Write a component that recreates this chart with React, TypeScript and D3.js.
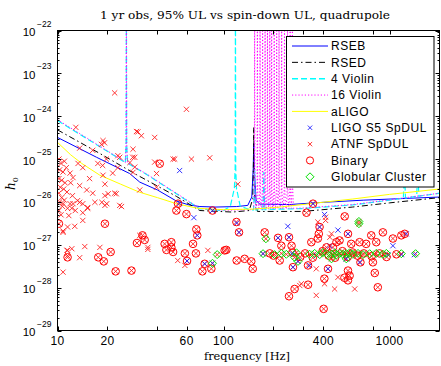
import React, { useEffect, useRef } from 'react'
import * as d3 from 'd3'

type Pt = [number, number]

const W = 441
const H = 366

const xTicks = [10, 20, 40, 60, 100, 200, 300, 400, 800, 1000]
const xTickLabels = [10, 20, 60, 100, 400, 1000]
const yExps = [-29, -28, -27, -26, -25, -24, -23, -22]

// sensitivity curves: frequency [Hz] / h0
const rsebF = [10, 17.2, 27.2, 31.3, 40, 52, 62, 72, 90, 120, 140, 148, 151, 152, 153.5, 157, 165, 250, 400, 700, 1200, 2000]
const rsebH = [3.2e-25, 1.1e-25, 4.6e-26, 2.9e-26, 1.9e-26, 1.05e-26, 8.5e-27, 7.8e-27, 7.6e-27, 7.8e-27, 8.3e-27, 1.3e-26, 6e-26, 2.3e-25, 5e-26, 1.1e-26, 8.9e-27, 8.7e-27, 9.8e-27, 1.1e-26, 1.2e-26, 1.3e-26]

const rsedF = [10, 18, 30, 52, 72, 113, 143, 150, 151.5, 152, 152.5, 154, 160, 300, 600, 1000, 2000]
const rsedH = [4.8e-25, 1.35e-25, 4.3e-26, 1.35e-26, 6.3e-27, 5.8e-27, 6.3e-27, 1.2e-26, 8e-26, 5.5e-25, 8e-26, 1.2e-26, 6e-27, 6e-27, 7.6e-27, 9.5e-27, 1.26e-26]

const violin4F = [10, 18, 25, 35, 52, 72, 100, 110, 116, 120, 126, 145, 300, 600, 1000, 2000]
const violin4H = [7.9e-25, 1.95e-25, 8.8e-26, 4.2e-26, 1.55e-26, 6.9e-27, 6.3e-27, 8e-27, 2e-26, 2e-26, 8e-27, 6.5e-27, 7e-27, 8.5e-27, 1.1e-26, 1.6e-26]
const violin4Peaks: Pt[] = [[26, 1e-21], [118, 1e-21], [154, 6e-26], [175, 5e-26], [1230, 6e-26], [1480, 5e-26]]

const violin16F = [10, 18, 25, 35, 52, 72, 100, 145, 300, 600, 1000, 2000]
const violin16H = [8.3e-25, 2.0e-25, 9e-26, 4.3e-26, 1.6e-26, 7e-27, 6.4e-27, 6.6e-27, 7.2e-27, 8.7e-27, 1.12e-26, 1.6e-26]
const violin16Peaks = [26, 154, 160, 166, 172, 178, 184, 190, 195, 202, 209, 216, 224, 233, 243, 252, 260]

const aligoF = [10, 12, 14, 18, 24, 31, 40, 52, 70, 100, 150, 220, 350, 600, 1000, 2000]
const aligoH = [2.45e-25, 1.26e-25, 7.9e-26, 4.2e-26, 2.6e-26, 1.7e-26, 1.26e-26, 9.1e-27, 7.1e-27, 6.6e-27, 6.8e-27, 7.6e-27, 9.3e-27, 1.17e-26, 1.5e-26, 2.0e-26]

// pulsars: [frequency, h0]
const atnf: Pt[] = [
  [22.1, 3.5e-24], [12.9, 5.5e-25], [29.9, 4.4e-25], [38.5, 3.2e-25], [18.8, 2.7e-25], [19.2, 2.4e-25], [18.4, 2.2e-25],
  [49.7, 1.0e-25], [28.4, 1.1e-25], [23.1, 1.2e-25], [13.6, 1.8e-25], [16.3, 1.6e-25],
  [14.2, 6.3e-26], [13.3, 7.9e-26], [17.5, 7.9e-26], [18.7, 7.1e-26], [23.1, 6.3e-26], [11.9, 4.7e-26], [12.4, 3.7e-26],
  [15.6, 3.5e-26], [21.5, 4.7e-26], [27.3, 8.3e-26], [13.6, 2.4e-26], [15.0, 1.9e-26], [16.3, 1.6e-26], [13.2, 1.07e-26],
  [14.2, 9.1e-27], [15.2, 7.4e-27], [22.1, 1.6e-26], [18.5, 9.8e-27], [19.8, 9.1e-27], [11.9, 9.1e-27],
  [59.8, 1.45e-24], [30.5, 4.3e-25], [32.0, 3.5e-25], [28.5, 1.7e-25], [23.7, 1.1e-25], [29.2, 1.1e-25], [19.7, 1.0e-25],
  [50.8, 1.0e-25], [64.1, 1.0e-25], [82.6, 1.07e-25], [38.5, 8.5e-26], [29.2, 6.5e-26], [28.5, 4.9e-26], [39.5, 4.6e-26],
  [18.8, 4.2e-26], [19.3, 2.6e-26], [31.3, 1.9e-26], [39.5, 2.2e-26], [19.3, 1.4e-26], [20.2, 1.55e-26], [22.6, 1.55e-26],
  [24.3, 7.8e-27], [122, 2.6e-26],
  [10.2, 1.0e-25], [10.5, 7.9e-26], [11.0, 8.9e-26], [10.3, 5.6e-26], [10.8, 5.0e-26], [11.3, 6.3e-26], [10.2, 3.5e-26],
  [10.6, 3.2e-26], [11.1, 2.8e-26], [10.4, 2.2e-26], [10.9, 2.0e-26], [10.2, 1.6e-26], [11.4, 1.7e-26], [10.6, 1.26e-26],
  [10.3, 1.0e-26], [11.0, 1.1e-26], [10.7, 7.9e-27], [10.2, 6.3e-27], [11.5, 7.1e-27], [10.5, 5.0e-27], [12.0, 2.8e-26],
  [12.3, 1.4e-26], [12.8, 6.3e-27], [11.7, 4.8e-27], [11.5, 2.6e-27], [10.8, 1.95e-27], [11.5, 7.4e-28], [11.5, 5.6e-28],
  [10.8, 2.3e-28],
  [10.8, 9.1e-27], [12.4, 9.1e-27], [13.6, 9.8e-27], [16.8, 9.8e-27], [19.3, 8.3e-27], [23.7, 8.3e-27], [12.2, 7.1e-27],
  [14.2, 5.6e-27], [15.2, 7.1e-27], [10.8, 2.1e-27], [12.7, 2.7e-27], [14.2, 3.7e-27], [11.4, 7.4e-28], [12.2, 8.1e-28],
  [14.6, 9.1e-28], [13.6, 5.0e-28], [18, 8.7e-28], [35, 8.7e-28], [35, 7.8e-28], [31.3, 1.66e-27], [53, 4.3e-28],
  [58.5, 3.3e-28], [80.5, 7.4e-28],
  [412, 4.4e-27], [412, 3.7e-27], [370, 3.4e-27], [288, 1.12e-28], [294, 1.23e-28], [362, 6.6e-29], [467, 9.3e-29],
  [617, 9.3e-29], [489, 1.74e-28], [406, 1.23e-28], [362, 2.75e-28], [447, 1.8e-27], [437, 1.5e-27],
]

const binary: Pt[] = [
  [10.2, 3.1e-27], [19.3, 3.1e-27], [11.5, 5.1e-28], [17.6, 5.1e-28], [19.0, 4.1e-28], [20.9, 6.8e-28], [22.4, 2.4e-28],
  [27.9, 2.5e-28], [30.1, 1.1e-27], [32.5, 1.66e-27], [33.5, 1.3e-27], [44.2, 1.05e-27], [45.3, 7.6e-28], [48.5, 1.15e-27],
  [48.5, 8.7e-28], [49.7, 6.8e-28], [52, 6.3e-27], [59.8, 5.2e-27], [65.5, 1.05e-27], [58.5, 6.3e-28], [68.6, 2.3e-27],
  [68.2, 6.3e-28], [69.5, 1.66e-27], [60.3, 4.2e-28], [74.6, 2.4e-28], [77.0, 3.6e-28], [84.5, 2.75e-28], [85.8, 6.3e-27],
  [104, 7.6e-28], [41.3, 7.8e-26], [53.2, 9.1e-27], [119.6, 3.4e-27],
  [316, 5.6e-27], [537, 4.6e-27], [124, 1.95e-27], [177, 1.95e-27], [213, 1.45e-27], [248, 1.5e-27], [223, 9.5e-28],
  [257, 9.5e-28], [379, 2.6e-27], [375, 1.8e-27], [370, 1.4e-27], [562, 1.8e-27], [776, 1.66e-27], [912, 1.95e-27],
  [1048, 1.4e-27], [1178, 1.66e-27], [1234, 1.8e-27], [588, 1.05e-27], [660, 1.15e-27], [723, 1.05e-27], [832, 1.15e-27],
  [479, 1.15e-27], [500, 1.26e-27], [456, 8.7e-28], [338, 1.15e-27], [417, 8.7e-28], [218, 4.3e-28], [147, 4.1e-28],
  [150, 2.75e-28], [120, 4.3e-28], [134, 4.7e-28], [101.6, 7.4e-28], [262, 3.0e-28], [323, 3.3e-28], [426, 2.75e-28],
  [562, 2.5e-28], [535, 1.7e-28], [562, 1.48e-28], [575, 1.9e-28], [794, 3.9e-28], [668, 3.9e-28], [815, 2.2e-28],
  [850, 1.02e-28], [405, 1.62e-28], [323, 1.17e-28], [268, 9.3e-29], [248, 6.3e-29], [401, 3.2e-29], [346, 9.1e-27],
  [190, 6.3e-28], [200, 5.6e-28], [260, 6.6e-28], [290, 5.2e-28], [310, 6.3e-28], [345, 5.0e-28], [395, 7.1e-28],
  [430, 5.6e-28], [470, 5.0e-28], [520, 7.1e-28], [560, 5.2e-28], [600, 6.6e-28], [640, 5.6e-28], [700, 6.3e-28],
  [780, 5.4e-28], [870, 6.3e-28], [960, 5.2e-28], [1100, 6.0e-28],
]

const globular: Pt[] = [
  [173, 6.2e-28], [203, 5.9e-28], [223, 6.3e-28], [239, 6.0e-28], [275, 6.5e-28], [281, 4.1e-28], [330, 6.0e-28],
  [354, 6.3e-28], [380, 5.9e-28], [397, 6.6e-28], [417, 6.2e-28], [447, 6.0e-28], [468, 6.5e-28], [479, 5.8e-28],
  [501, 6.3e-28], [524, 6.0e-28], [549, 6.2e-28], [575, 6.5e-28], [602, 6.0e-28], [646, 6.3e-28], [692, 5.9e-28],
  [759, 6.2e-28], [832, 6.3e-28], [912, 6.0e-28], [957, 6.3e-28], [1178, 6.2e-28], [1435, 6.2e-28], [180, 1.38e-27],
  [654, 3.5e-27], [654, 3.1e-27], [85.8, 3.7e-28], [91.6, 5.9e-28], [268, 5.1e-28], [447, 4.7e-28], [549, 4.7e-28],
]

const ligoS5: Pt[] = [
  [66.3, 4.3e-27], [69.5, 1.66e-27], [60.3, 4.2e-28], [77, 3.6e-28], [85.8, 3.7e-28], [85.8, 6.3e-27], [54.4, 9.3e-27],
  [120, 3.2e-27], [124, 1.95e-27], [213, 1.45e-27], [248, 1.5e-27], [244, 2.7e-27], [406, 5.1e-27], [379, 2.6e-27],
  [437, 9.5e-28], [562, 1.8e-27], [489, 2.2e-27], [1048, 9.5e-28], [1262, 1.8e-27], [173, 6.2e-28], [262, 3.0e-28],
  [426, 2.75e-28], [549, 4.7e-28], [660, 3.9e-28], [978, 5.9e-28], [281, 4.1e-28], [259, 6.2e-28], [330, 3.3e-28],
  [363, 5.6e-28], [1178, 5.9e-28], [1413, 5.9e-28], [54.4, 5.4e-26], [346, 9.1e-27],
]

const legendItems = ['RSEB', 'RSED', '4 Violin', '16 Violin', 'aLIGO', 'LIGO S5 SpDUL', 'ATNF SpDUL', 'Binary', 'Globular Cluster']

export default function App() {
  const svgRef = useRef<SVGSVGElement>(null)

  useEffect(() => {
    if (!svgRef.current) return
    const svg = d3.select(svgRef.current)
    svg.selectAll('*').remove()

    const left = 57.5, right = 439.5, top = 30.5, bottom = 330.5
    const x = d3.scaleLog().domain([10, 2000]).range([left, right])
    const y = d3.scaleLog().domain([1e-29, 1e-22]).range([bottom, top])
    const sans = 'Liberation Sans, Arial, sans-serif'
    const serif = 'DejaVu Serif, serif'

    svg.append('rect').attr('width', W).attr('height', H).attr('fill', '#fff')

    svg.append('defs').append('clipPath').attr('id', 'plotclip')
      .append('rect').attr('x', left).attr('y', top).attr('width', right - left).attr('height', bottom - top)

    const zip = (f: number[], h: number[]): Pt[] => f.map((v, i) => [v, h[i]])

    // add narrow resonance spikes on top of a base curve
    const withPeaks = (base: Pt[], peaks: Pt[]): Pt[] => {
      const interp = d3.scaleLinear()
        .domain(base.map(d => Math.log10(d[0])))
        .range(base.map(d => Math.log10(d[1])))
      const pts = base.slice()
      peaks.forEach(([f, ph]) => {
        const b = Math.pow(10, interp(Math.log10(f)))
        pts.push([f * 0.985, b], [f * 0.996, b * 3], [f, ph], [f * 1.004, b * 3], [f * 1.015, b])
      })
      return pts.sort((a, b) => a[0] - b[0])
    }

    const line = d3.line<Pt>().x(d => x(d[0])).y(d => y(d[1]))

    const curves = [
      { pts: zip(rsebF, rsebH), color: '#0000ff', dash: null, w: 1 },
      { pts: zip(rsedF, rsedH), color: '#000000', dash: '6,3,1.5,3', w: 1 },
      { pts: withPeaks(zip(violin4F, violin4H), violin4Peaks), color: '#00ffff', dash: '6,3', w: 1.2 },
      { pts: withPeaks(zip(violin16F, violin16H), violin16Peaks.map(f => [f, 1e-21] as Pt)), color: '#ff00ff', dash: '1.2,2', w: 1 },
      { pts: zip(aligoF, aligoH), color: '#ffff00', dash: null, w: 1 },
    ]

    const plot = svg.append('g').attr('clip-path', 'url(#plotclip)')
    curves.forEach(c => {
      plot.append('path').attr('d', line(c.pts) || '')
        .attr('fill', 'none').attr('stroke', c.color).attr('stroke-width', c.w)
        .attr('stroke-dasharray', c.dash)
    })

    const xPath = (px: number, py: number, s: number) =>
      `M${px - s},${py - s}L${px + s},${py + s}M${px - s},${py + s}L${px + s},${py - s}`
    const diamond = (px: number, py: number, s: number) =>
      `M${px},${py - s}L${px + s},${py}L${px},${py + s}L${px - s},${py}Z`

    // ATNF crosses (binaries and globular cluster pulsars are ATNF pulsars too)
    const redX = [...atnf, ...binary, ...globular]
    plot.append('path')
      .attr('d', redX.map(d => xPath(x(d[0]), y(d[1]), 2.6)).join(''))
      .attr('fill', 'none').attr('stroke', '#ff2020').attr('stroke-width', 0.9)

    plot.append('path')
      .attr('d', ligoS5.map(d => xPath(x(d[0]), y(d[1]), 2.6)).join(''))
      .attr('fill', 'none').attr('stroke', '#2020ff').attr('stroke-width', 0.9)

    plot.selectAll('circle.bin').data(binary).enter().append('circle')
      .attr('class', 'bin')
      .attr('cx', d => x(d[0])).attr('cy', d => y(d[1])).attr('r', 3.8)
      .attr('fill', 'none').attr('stroke', '#ff0000').attr('stroke-width', 1)

    plot.append('path')
      .attr('d', globular.map(d => diamond(x(d[0]), y(d[1]), 4)).join(''))
      .attr('fill', 'none').attr('stroke', '#00e000').attr('stroke-width', 1)

    // axes box and ticks
    const axes = svg.append('g').attr('stroke', '#000').attr('stroke-width', 1)
    axes.append('rect').attr('x', left).attr('y', top).attr('width', right - left).attr('height', bottom - top)
      .attr('fill', 'none')

    xTicks.forEach(t => {
      const px = Math.round(x(t)) + 0.5
      axes.append('line').attr('x1', px).attr('x2', px).attr('y1', bottom).attr('y2', bottom - 4)
      axes.append('line').attr('x1', px).attr('x2', px).attr('y1', top).attr('y2', top + 4)
    })
    yExps.forEach(e => {
      const py = Math.round(y(Math.pow(10, e))) + 0.5
      axes.append('line').attr('x1', left).attr('x2', left + 4).attr('y1', py).attr('y2', py)
      axes.append('line').attr('x1', right).attr('x2', right - 4).attr('y1', py).attr('y2', py)
      if (e < -22) {
        for (let m = 2; m <= 9; m++) {
          const my = Math.round(y(m * Math.pow(10, e))) + 0.5
          axes.append('line').attr('x1', left).attr('x2', left + 2).attr('y1', my).attr('y2', my)
          axes.append('line').attr('x1', right).attr('x2', right - 2).attr('y1', my).attr('y2', my)
        }
      }
    })

    xTickLabels.forEach(t => {
      svg.append('text').attr('x', x(t)).attr('y', 345)
        .attr('text-anchor', 'middle').attr('font-family', sans).attr('font-size', 12)
        .attr('letter-spacing', 0.4).text(t)
    })

    yExps.forEach(e => {
      const py = y(Math.pow(10, e))
      svg.append('text').attr('x', 35.5).attr('y', py + 5.5)
        .attr('text-anchor', 'end').attr('font-family', sans).attr('font-size', 11.5).text('10')
      svg.append('text').attr('x', 37).attr('y', py - 4)
        .attr('font-family', sans).attr('font-size', 8.5).text('\u2212' + Math.abs(e))
    })

    svg.append('text').attr('x', 245).attr('y', 19).attr('text-anchor', 'middle')
      .attr('font-family', serif).attr('font-size', 11).attr('textLength', 290).attr('lengthAdjust', 'spacingAndGlyphs')
      .text('1 yr obs, 95% UL vs spin-down UL, quadrupole')

    svg.append('text').attr('x', 247).attr('y', 360).attr('text-anchor', 'middle')
      .attr('font-family', serif).attr('font-size', 11).attr('textLength', 86).attr('lengthAdjust', 'spacingAndGlyphs')
      .text('frequency [Hz]')

    const yl = svg.append('text').attr('transform', 'translate(15,190) rotate(-90)')
      .attr('font-family', serif).attr('font-size', 12)
    yl.append('tspan').attr('font-style', 'italic').text('h')
    yl.append('tspan').attr('font-size', 8).attr('dy', 3).text('0')

    // legend
    const lg = svg.append('g')
    lg.append('rect').attr('x', 286.5).attr('y', 36.5).attr('width', 147.5).attr('height', 150.5)
      .attr('fill', '#fff').attr('stroke', '#000').attr('stroke-width', 1)
    legendItems.forEach((name, i) => {
      const cy = 46 + i * 16.35
      if (i < 5) {
        const c = curves[i]
        lg.append('line').attr('x1', 292).attr('x2', 328).attr('y1', cy).attr('y2', cy)
          .attr('stroke', c.color).attr('stroke-width', i === 2 ? 1.6 : 1).attr('stroke-dasharray', c.dash)
      } else if (i === 5 || i === 6) {
        lg.append('path').attr('d', xPath(310, cy, 2.2)).attr('fill', 'none')
          .attr('stroke', i === 5 ? '#2020ff' : '#ff2020').attr('stroke-width', 0.9)
      } else if (i === 7) {
        lg.append('circle').attr('cx', 310).attr('cy', cy).attr('r', 3.6)
          .attr('fill', 'none').attr('stroke', '#ff0000')
      } else {
        lg.append('path').attr('d', diamond(310, cy, 4)).attr('fill', 'none').attr('stroke', '#00e000')
      }
      lg.append('text').attr('x', 331).attr('y', cy + 4.3)
        .attr('font-family', sans).attr('font-size', 12).attr('letter-spacing', 0.55).text(name)
    })
  }, [])

  return (
    <svg ref={svgRef} width={W} height={H} viewBox={`0 0 ${W} ${H}`}
      style={{ position: 'absolute', left: 0, top: 0 }} />
  )
}
